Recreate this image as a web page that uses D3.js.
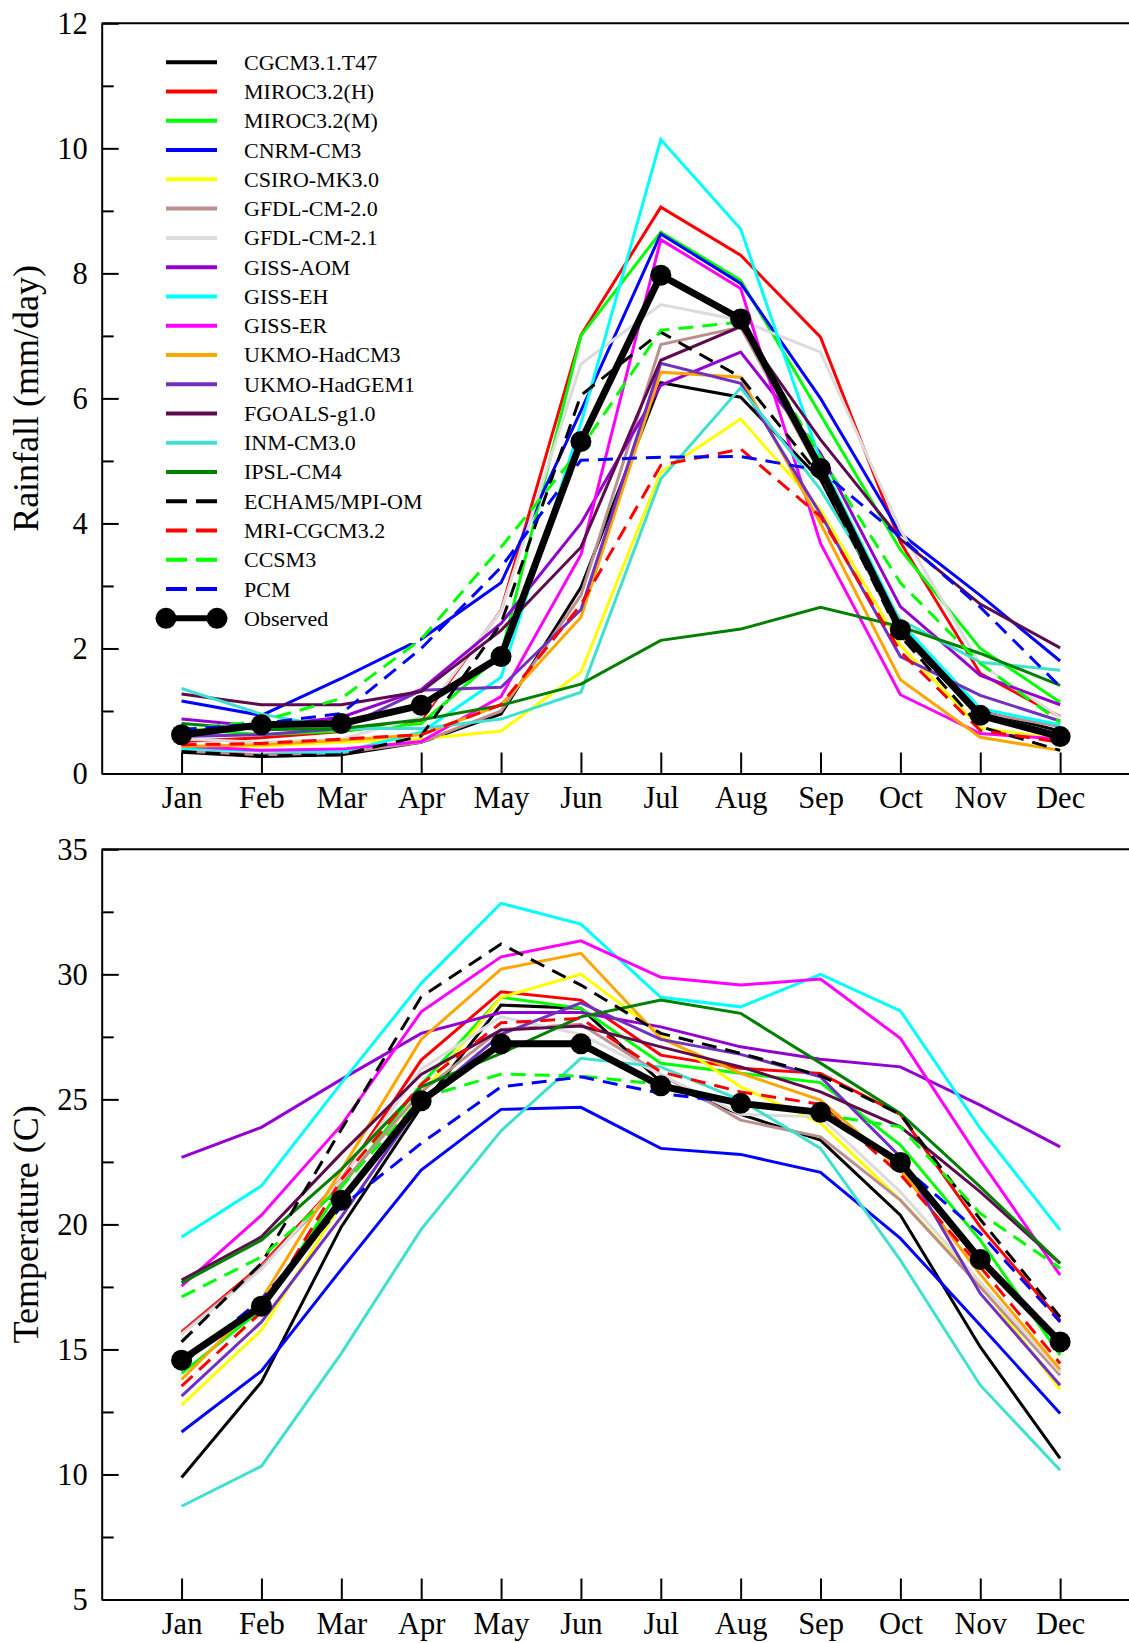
<!DOCTYPE html>
<html>
<head>
<meta charset="utf-8">
<script src="https://cdn.jsdelivr.net/npm/d3@7"></script>
<style>
  html, body { margin: 0; padding: 0; background: #fff; }
  svg { display: block; }
</style>
</head>
<body>
<svg id="chart" width="1129" height="1643"></svg>
<script>
// ---- categories -------------------------------------------------------
const months = ["Jan", "Feb", "Mar", "Apr", "May", "Jun", "Jul", "Aug", "Sep", "Oct", "Nov", "Dec"];

const modelNames = [
  "CGCM3.1.T47", "MIROC3.2(H)", "MIROC3.2(M)", "CNRM-CM3", "CSIRO-MK3.0",
  "GFDL-CM-2.0", "GFDL-CM-2.1", "GISS-AOM", "GISS-EH", "GISS-ER",
  "UKMO-HadCM3", "UKMO-HadGEM1", "FGOALS-g1.0", "INM-CM3.0", "IPSL-CM4",
  "ECHAM5/MPI-OM", "MRI-CGCM3.2", "CCSM3", "PCM"
];
const observedName = "Observed";

// ---- monthly rainfall (mm/day) ---------------------------------------
const rainCGCM    = [0.34, 0.27, 0.30, 0.50, 0.95, 2.98, 6.25, 6.02, 4.70, 2.26, 1.00, 0.68];
const rainMIROCH  = [0.51, 0.57, 0.67, 0.85, 2.61, 7.01, 9.06, 8.29, 6.98, 3.70, 1.60, 0.91];
const rainMIROCM  = [0.72, 0.62, 0.68, 0.80, 1.90, 7.00, 8.66, 7.89, 5.74, 3.58, 2.00, 1.14];
const rainCNRM    = [1.16, 0.93, 1.52, 2.15, 3.05, 5.80, 8.63, 7.84, 6.00, 3.84, 2.85, 1.80];
const rainCSIRO   = [0.42, 0.44, 0.50, 0.55, 0.68, 1.62, 4.82, 5.67, 4.22, 2.05, 0.73, 0.55];
const rainGFDL20  = [0.36, 0.30, 0.33, 0.50, 1.00, 2.85, 6.86, 7.14, 4.80, 2.20, 0.98, 0.75];
const rainGFDL21  = [0.55, 0.50, 0.55, 0.90, 2.60, 6.55, 7.50, 7.25, 6.74, 3.90, 1.75, 0.90];
const rainGISSAOM = [0.87, 0.75, 0.90, 1.34, 2.40, 4.00, 6.21, 6.74, 5.12, 2.67, 1.57, 1.10];
const rainGISSEH  = [0.40, 0.36, 0.34, 0.66, 1.54, 5.60, 10.14, 8.71, 5.00, 2.42, 1.04, 0.78];
const rainGISSER  = [0.44, 0.37, 0.39, 0.51, 1.23, 3.50, 8.54, 7.76, 3.68, 1.26, 0.64, 0.55];
const rainHadCM3  = [0.43, 0.46, 0.53, 0.62, 1.10, 2.50, 6.42, 6.34, 4.00, 1.50, 0.58, 0.37];
const rainHadGEM1 = [0.59, 0.62, 0.72, 1.33, 1.38, 2.62, 6.56, 6.24, 4.15, 1.87, 1.25, 0.84];
const rainFGOALS  = [1.27, 1.10, 1.10, 1.31, 2.29, 3.62, 6.61, 7.15, 5.34, 3.75, 2.71, 2.01];
const rainINM     = [1.36, 0.95, 0.72, 0.72, 0.87, 1.30, 4.71, 6.17, 4.54, 2.46, 1.78, 1.65];
const rainIPSL    = [0.80, 0.70, 0.72, 0.86, 1.09, 1.43, 2.13, 2.31, 2.66, 2.35, 1.92, 1.41];
const rainECHAM   = [0.35, 0.28, 0.30, 0.60, 2.40, 6.05, 7.06, 6.34, 4.75, 2.20, 0.75, 0.37];
const rainMRI     = [0.46, 0.48, 0.55, 0.62, 1.10, 2.70, 4.93, 5.19, 4.11, 1.95, 0.69, 0.50];
const rainCCSM3   = [0.70, 0.84, 1.20, 2.15, 3.62, 5.20, 7.09, 7.22, 5.07, 3.05, 1.76, 0.82];
const rainPCM     = [0.70, 0.80, 0.96, 2.00, 3.30, 5.01, 5.06, 5.07, 4.85, 3.78, 2.66, 1.39];
const rainObserved = [0.62, 0.78, 0.80, 1.09, 1.87, 5.31, 7.97, 7.27, 4.88, 2.30, 0.93, 0.59];

// ---- monthly temperature (C) -----------------------------------------
const tempCGCM    = [9.88, 13.70, 19.90, 24.70, 28.77, 28.64, 25.70, 24.40, 23.37, 20.37, 15.10, 10.64];
const tempMIROCH  = [15.70, 18.37, 21.80, 26.57, 29.30, 28.97, 26.77, 26.24, 26.04, 24.40, 19.90, 16.17];
const tempMIROCM  = [14.04, 16.60, 21.50, 25.60, 29.08, 28.64, 26.44, 26.04, 25.67, 23.17, 19.37, 14.77];
const tempCNRM    = [11.70, 14.14, 18.20, 22.17, 24.60, 24.68, 23.04, 22.80, 22.08, 19.44, 15.97, 12.44];
const tempCSIRO   = [12.77, 15.77, 20.80, 25.20, 29.08, 30.01, 27.60, 25.50, 24.05, 20.97, 17.60, 13.40];
const tempGFDL20  = [15.64, 18.30, 21.60, 25.30, 27.80, 28.00, 26.00, 24.17, 23.50, 20.97, 17.50, 13.97];
const tempGFDL21  = [15.60, 18.20, 21.80, 26.20, 28.30, 27.60, 26.00, 24.40, 24.30, 21.30, 17.70, 14.10];
const tempGISSAOM = [22.68, 23.88, 25.80, 27.64, 28.47, 28.47, 27.90, 27.10, 26.60, 26.30, 24.77, 23.10];
const tempGISSEH  = [19.50, 21.54, 25.65, 29.64, 32.84, 32.01, 29.08, 28.70, 30.00, 28.54, 23.84, 19.77];
const tempGISSER  = [17.53, 20.37, 23.97, 28.50, 30.70, 31.34, 29.88, 29.57, 29.81, 27.44, 22.57, 17.97];
const tempHadCM3  = [13.80, 17.00, 22.17, 27.40, 30.21, 30.84, 27.44, 26.04, 24.97, 22.20, 18.00, 14.20];
const tempHadGEM1 = [13.13, 16.10, 20.30, 24.90, 27.60, 28.86, 27.40, 26.80, 25.90, 22.70, 17.24, 13.57];
const tempFGOALS  = [17.77, 19.50, 22.84, 26.00, 27.77, 27.93, 27.10, 26.30, 25.30, 23.90, 21.30, 18.44];
const tempINM     = [8.73, 10.33, 14.84, 19.80, 23.74, 26.64, 26.30, 24.97, 23.04, 18.57, 13.57, 10.17];
const tempIPSL    = [17.66, 19.37, 22.20, 25.50, 26.84, 28.30, 28.97, 28.44, 26.45, 24.44, 21.50, 18.44];
const tempECHAM   = [15.30, 18.45, 23.80, 29.10, 31.21, 29.57, 27.64, 26.84, 25.95, 24.40, 20.20, 16.30];
const tempMRI     = [13.53, 16.50, 21.80, 25.60, 28.06, 28.24, 26.10, 25.30, 24.80, 22.00, 18.30, 14.44];
const tempCCSM3   = [17.10, 18.70, 21.50, 25.05, 26.01, 25.93, 25.60, 24.90, 24.40, 23.90, 20.44, 18.25];
const tempPCM     = [14.40, 17.00, 20.70, 23.24, 25.50, 25.90, 25.24, 24.84, 24.40, 22.40, 19.64, 16.10];
const tempObserved = [14.57, 16.73, 20.97, 24.94, 27.22, 27.22, 25.54, 24.84, 24.48, 22.48, 18.60, 15.30];

// ---- axis ticks --------------------------------------------------------
const rainTicks = [0, 2, 4, 6, 8, 10, 12];
const rainMinorTicks = [1, 3, 5, 7, 9, 11];
const tempTicks = [5, 10, 15, 20, 25, 30, 35];
const tempMinorTicks = [7.5, 12.5, 17.5, 22.5, 27.5, 32.5];
const rainLabel = "Rainfall (mm/day)";
const tempLabel = "Temperature (C)";

// ---- line styles, one per model (same order as modelNames) ------------
const modelColors = [
  "#000000", "#ff0000", "#00ff00", "#0000ff", "#ffff00",
  "#bc8f8f", "#dcdcdc", "#9400d3", "#00ffff", "#ff00ff",
  "#ffa500", "#7030c0", "#5e0b4e", "#40e0d0", "#008000",
  "#000000", "#ff0000", "#00ff00", "#0000ff"
];
const modelDashed = [
  false, false, false, false, false, false, false, false, false, false,
  false, false, false, false, false, true, true, true, true
];

// ---- tables built from the arrays above --------------------------------
const rainSeries = [rainCGCM, rainMIROCH, rainMIROCM, rainCNRM, rainCSIRO, rainGFDL20, rainGFDL21,
  rainGISSAOM, rainGISSEH, rainGISSER, rainHadCM3, rainHadGEM1, rainFGOALS, rainINM, rainIPSL,
  rainECHAM, rainMRI, rainCCSM3, rainPCM];
const tempSeries = [tempCGCM, tempMIROCH, tempMIROCM, tempCNRM, tempCSIRO, tempGFDL20, tempGFDL21,
  tempGISSAOM, tempGISSEH, tempGISSER, tempHadCM3, tempHadGEM1, tempFGOALS, tempINM, tempIPSL,
  tempECHAM, tempMRI, tempCCSM3, tempPCM];

const FONT = "'Liberation Serif', 'Times New Roman', Times, serif";
const svg = d3.select("#chart");
svg.append("rect").attr("width", 1129).attr("height", 1643).attr("fill", "#fff");

// month 1..12 sit at 1..12; the frame runs from 0 to 13
const x = d3.scaleLinear().domain([0, 13]).range([101.7, 1140]);

const lineGen = (y) => d3.line()
  .x((d, i) => x(i + 1))
  .y(d => y(d));

function drawPanel(opts) {
  const { y, series, observed, ticks, minorTicks, label } = opts;
  const g = svg.append("g");
  const [y0, y1] = y.range();

  // model curves
  const curves = g.append("g").attr("fill", "none");
  series.forEach((vals, k) => {
    curves.append("path")
      .datum(vals)
      .attr("d", lineGen(y))
      .attr("stroke", modelColors[k])
      .attr("stroke-width", 3)
      .attr("stroke-linejoin", "miter")
      .attr("stroke-dasharray", modelDashed[k] ? "15,9" : null);
  });

  // observed climatology
  g.append("path")
    .datum(observed)
    .attr("d", lineGen(y))
    .attr("fill", "none")
    .attr("stroke", "#000")
    .attr("stroke-width", 7)
    .attr("stroke-linejoin", "round");
  g.append("g").selectAll("circle")
    .data(observed)
    .join("circle")
    .attr("cx", (d, i) => x(i + 1))
    .attr("cy", d => y(d))
    .attr("r", 10.5)
    .attr("fill", "#000");

  // optional overlay (legend) drawn above the curves
  if (opts.overlay) opts.overlay(g);

  // frame: top border
  g.append("line")
    .attr("x1", x.range()[0]).attr("x2", x.range()[1])
    .attr("y1", y1).attr("y2", y1)
    .attr("stroke", "#000").attr("stroke-width", 2);

  // x axis with inward ticks
  const xAxis = d3.axisBottom(x)
    .tickValues(d3.range(1, 13))
    .tickFormat(i => months[i - 1])
    .tickSizeInner(-21)
    .tickSizeOuter(0)
    .tickPadding(13);
  const gx = g.append("g").attr("transform", `translate(0,${y0})`).call(xAxis);
  styleAxis(gx);
  gx.selectAll("text").attr("font-size", 30.5);

  // y axis, major ticks with labels
  const yAxis = d3.axisLeft(y)
    .tickValues(ticks)
    .tickFormat(d3.format("d"))
    .tickSizeInner(-17)
    .tickSizeOuter(0)
    .tickPadding(14);
  const gy = g.append("g").attr("transform", `translate(${x.range()[0]},0)`).call(yAxis);
  styleAxis(gy);
  gy.selectAll("text").attr("font-size", 30.5);

  // y axis, minor ticks
  const yMinor = d3.axisLeft(y)
    .tickValues(minorTicks)
    .tickFormat("")
    .tickSizeInner(-12)
    .tickSizeOuter(0);
  const gm = g.append("g").attr("transform", `translate(${x.range()[0]},0)`).call(yMinor);
  styleAxis(gm);
  gm.select(".domain").remove();

  // rotated axis title
  g.append("text")
    .attr("transform", `translate(38,${(y0 + y1) / 2}) rotate(-90)`)
    .attr("text-anchor", "middle")
    .attr("font-family", FONT)
    .attr("font-size", 36)
    .attr("fill", "#000")
    .text(label);
}

function styleAxis(sel) {
  sel.attr("font-family", FONT);
  sel.select(".domain").attr("stroke", "#000").attr("stroke-width", 2);
  sel.selectAll(".tick line").attr("stroke", "#000").attr("stroke-width", 2);
  sel.selectAll(".tick text").attr("fill", "#000");
}

// legend listing every model plus the observed curve
function drawLegend(g) {
  const rowY = d3.scaleLinear().domain([0, modelNames.length]).range([62.3, 618.3]);
  const lx0 = 166, lx1 = 217, tx = 244;

  g.append("rect")
    .attr("x", 140).attr("y", 35)
    .attr("width", 280).attr("height", 608)
    .attr("fill", "#fff");

  const rows = g.append("g");
  modelNames.forEach((name, k) => {
    const yy = rowY(k);
    rows.append("line")
      .attr("x1", lx0).attr("x2", lx1)
      .attr("y1", yy).attr("y2", yy)
      .attr("stroke", modelColors[k])
      .attr("stroke-width", 4)
      .attr("stroke-dasharray", modelDashed[k] ? "21,9" : null);
    rows.append("text")
      .attr("x", tx).attr("y", yy + 7.5)
      .attr("font-family", FONT)
      .attr("font-size", 22)
      .attr("fill", "#000")
      .text(name);
  });

  const yo = rowY(modelNames.length);
  rows.append("line")
    .attr("x1", lx0).attr("x2", lx1)
    .attr("y1", yo).attr("y2", yo)
    .attr("stroke", "#000").attr("stroke-width", 6);
  [lx0, lx1].forEach(cx => {
    rows.append("circle").attr("cx", cx).attr("cy", yo).attr("r", 10.5).attr("fill", "#000");
  });
  rows.append("text")
    .attr("x", tx).attr("y", yo + 7.5)
    .attr("font-family", FONT)
    .attr("font-size", 22)
    .attr("fill", "#000")
    .text(observedName);
}

// ---- rainfall panel ------------------------------------------------------
const yRain = d3.scaleLinear().domain([0, 12]).range([773.5, 23.3]);
drawPanel({
  y: yRain, series: rainSeries, observed: rainObserved,
  ticks: rainTicks, minorTicks: rainMinorTicks, label: rainLabel,
  overlay: drawLegend
});

// ---- temperature panel ---------------------------------------------------
const yTemp = d3.scaleLinear().domain([5, 35]).range([1599.5, 849.3]);
drawPanel({
  y: yTemp, series: tempSeries, observed: tempObserved,
  ticks: tempTicks, minorTicks: tempMinorTicks, label: tempLabel
});
</script>
</body>
</html>
